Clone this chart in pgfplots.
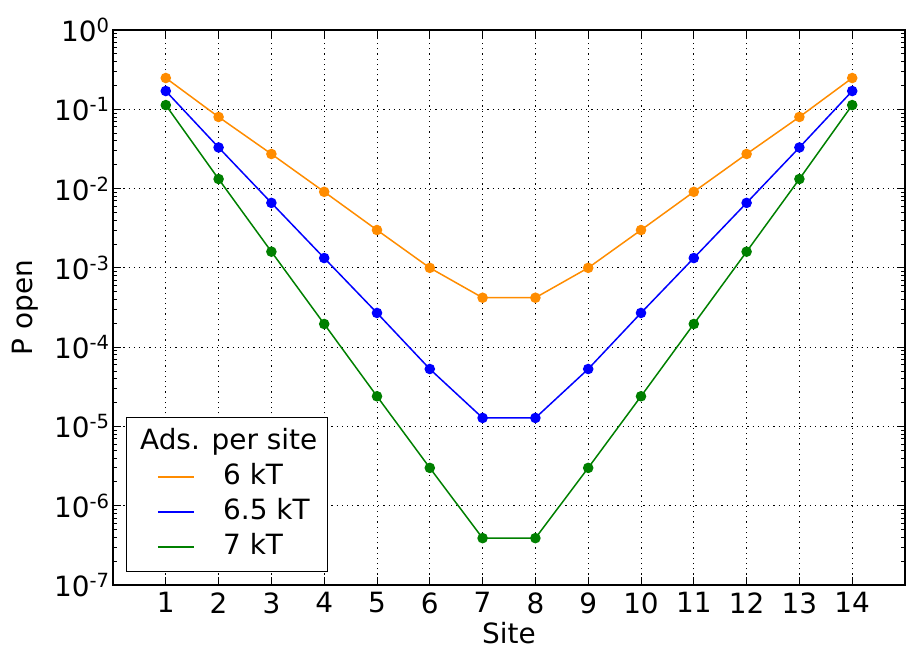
\documentclass[border=0pt]{standalone}
\usepackage{pgfplots}
\pgfplotsset{compat=1.18}
\usepackage{fontspec}
\setmainfont{DejaVu Sans}
\definecolor{morange}{RGB}{255,140,0}
\definecolor{mblue}{RGB}{0,0,255}
\definecolor{mgreen}{RGB}{0,128,0}
\begin{document}
\begin{tikzpicture}
\begin{axis}[
  scale only axis, width=792bp, height=555bp,
  ymode=log, ymin=1e-7, ymax=1,
  xmin=0, xmax=15, xtick={1,...,14},
  ytick={1e-7,1e-6,1e-5,1e-4,1e-3,1e-2,1e-1,1},
  yticklabels={10\textsuperscript{-7},10\textsuperscript{-6},10\textsuperscript{-5},10\textsuperscript{-4},10\textsuperscript{-3},10\textsuperscript{-2},10\textsuperscript{-1},10\textsuperscript{0}},
  /pgf/number format/assume math mode=true,
  tick label style={font=\fontsize{28}{34}\selectfont},
  xticklabel style={yshift=-4bp},
  label style={font=\fontsize{28}{34}\selectfont},
  xlabel={Site}, ylabel={P open},
  xlabel style={inner sep=2bp, yshift=-3bp},
  ylabel style={yshift=9bp},
  grid=major,
  major grid style={black, line width=0.8bp, dash pattern=on 1.2bp off 4bp},
  axis line style={line width=1.2bp},
  major tick length=8bp, minor tick length=4bp,
  tick style={black, line width=0.8bp},
  legend style={at={(0.016,0.023)}, anchor=south west, draw=black, line width=1bp,
    font=\fontsize{28}{34}\selectfont, row sep=0bp, inner sep=7bp,
    nodes={inner sep=3.5bp, text height=21bp, text depth=7bp}},
  legend cell align=left,
  legend image code/.code={\path (0bp,0bp); \draw[#1, line width=1.5bp] (24bp,0bp) -- (60bp,0bp);},
]
\addlegendimage{empty legend}
\addlegendentry{\hspace{-58bp}Ads. per site}
\addplot[morange, line width=1.5bp, mark=*, mark size=4.5bp] coordinates {
(1,0.248) (2,0.080) (3,0.0273) (4,0.0091) (5,0.0030) (6,0.0010) (7,0.00042)
(8,0.00042) (9,0.0010) (10,0.0030) (11,0.0091) (12,0.0273) (13,0.080) (14,0.248)};
\addlegendentry{\hspace{25bp}6 kT}
\addplot[mblue, line width=1.5bp, mark=*, mark size=4.5bp] coordinates {
(1,0.17) (2,0.033) (3,0.0066) (4,0.00133) (5,0.00027) (6,5.3e-5) (7,1.28e-5)
(8,1.28e-5) (9,5.3e-5) (10,0.00027) (11,0.00133) (12,0.0066) (13,0.033) (14,0.17)};
\addlegendentry{\hspace{25bp}6.5 kT}
\addplot[mgreen, line width=1.5bp, mark=*, mark size=4.5bp] coordinates {
(1,0.113) (2,0.0132) (3,0.0016) (4,1.96e-4) (5,2.4e-5) (6,3.0e-6) (7,3.9e-7)
(8,3.9e-7) (9,3.0e-6) (10,2.4e-5) (11,1.96e-4) (12,0.0016) (13,0.0132) (14,0.113)};
\addlegendentry{\hspace{25bp}7 kT}
\end{axis}
\pgfresetboundingbox
\path (current axis.south west) ++(-113bp,-67bp) rectangle ++(907bp,652bp);
\end{tikzpicture}
\end{document}
